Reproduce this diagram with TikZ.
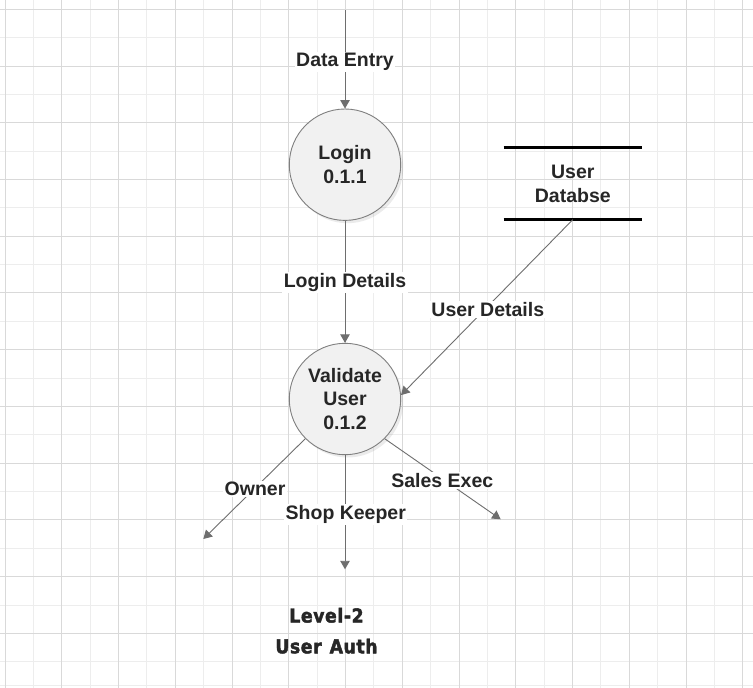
\documentclass[tikz,border=0pt]{standalone}
\usepackage{fontspec}
\setmainfont{Liberation Sans}
\newfontfamily\headfont[FakeBold=2.2,LetterSpace=3]{DejaVu Sans Condensed}
\usetikzlibrary{arrows.meta}
\definecolor{gridD}{HTML}{D9D9D9}
\definecolor{gridL}{HTML}{EDEDED}
\definecolor{txt}{HTML}{262626}
\definecolor{lineC}{HTML}{6E6E6E}
\definecolor{circF}{HTML}{F1F1F1}
\definecolor{circB}{HTML}{7F7F7F}
\tikzset{
  proc/.style={circle, minimum size=111.4pt, inner sep=0pt, draw=circB, line width=0.9pt,
    fill=circF, align=center, text=txt, font=\fontsize{19.5pt}{23.4pt}\selectfont\bfseries},
  flow/.style={draw=lineC, line width=0.9pt, -{Triangle[length=8.5pt,width=9.5pt]}},
  lbl/.style={fill=white, inner sep=1.5pt, anchor=base, text=txt,
    font=\fontsize{19.5pt}{23.4pt}\selectfont\bfseries},
  storetxt/.style={minimum width=138pt, minimum height=72pt, inner sep=0pt, align=center,
    text=txt, font=\fontsize{19.5pt}{24pt}\selectfont\bfseries},
  headtxt/.style={align=center, text=txt, anchor=base, inner sep=0pt,
    font=\fontsize{19.2pt}{30.5pt}\selectfont\headfont\bfseries}
}
\begin{document}
\begin{tikzpicture}[x=1pt,y=-1pt]
\useasboundingbox (0,0) rectangle (753,688);
\fill[white] (0,0) rectangle (753,688);
% grid
\foreach \i in {0,...,12} {
  \draw[gridL, line width=1pt] ({33.4+56.75*\i},0) -- ({33.4+56.75*\i},688);
}
\foreach \j in {0,...,11} {
  \draw[gridL, line width=1pt] (0,{37.7+56.73*\j}) -- (753,{37.7+56.73*\j});
}
\draw[gridL, line width=1pt] (0,685) -- (753,685);
\foreach \i in {0,...,13} {
  \draw[gridD, line width=1pt] ({5+56.75*\i},0) -- ({5+56.75*\i},688);
}
\foreach \j in {0,...,11} {
  \draw[gridD, line width=1pt] (0,{9.3+56.73*\j}) -- (753,{9.3+56.73*\j});
}
% shadows
\fill[black, opacity=0.08] (347.5,167.5) circle (55.7pt);
\fill[black, opacity=0.08] (347.5,401.8) circle (55.7pt);
% processes
\node[proc] (login) at (345,164.7) {Login\\0.1.1};
\node[proc] (valid) at (345,399) {Validate\\User\\0.1.2};
% data store
\node[storetxt] (db) at (572.8,183.4) {User\\Databse};
\draw[black, line width=3pt] (db.north west) -- (db.north east);
\draw[black, line width=3pt] (db.south west) -- (db.south east);
% coordinates
\coordinate (src) at (345,10);
\coordinate (ownerEnd) at (203.3,539);
\coordinate (shopEnd) at (345,569.3);
\coordinate (salesEnd) at (500.7,519.3);
% connectors
\draw[flow] (src) -- (login);
\draw[flow] (login) -- (valid);
\draw[flow] (db.south) -- (valid.4);
\draw[flow] (valid.225) -- (ownerEnd);
\draw[flow] (valid.south) -- (shopEnd);
\draw[flow] (valid.315.5) -- (salesEnd);
% labels
\node[lbl] (l1) at (345,66.7) {Data Entry};
\node[lbl] (l2) at (345,287.3) {Login Details};
\node[lbl] (l3) at (487.8,316.6) {User Details};
\node[lbl] (l4) at (255,495.8) {Owner};
\node[lbl] (l5) at (345.8,519.2) {Shop Keeper};
\node[lbl] (l6) at (442.3,487.2) {Sales Exec};
% title
\node[headtxt] (t1) at (326.5,622.5) {Level-2};
\node[headtxt] (t2) at (326.5,653.3) {User\hspace{8pt}Auth};
\end{tikzpicture}
\end{document}
